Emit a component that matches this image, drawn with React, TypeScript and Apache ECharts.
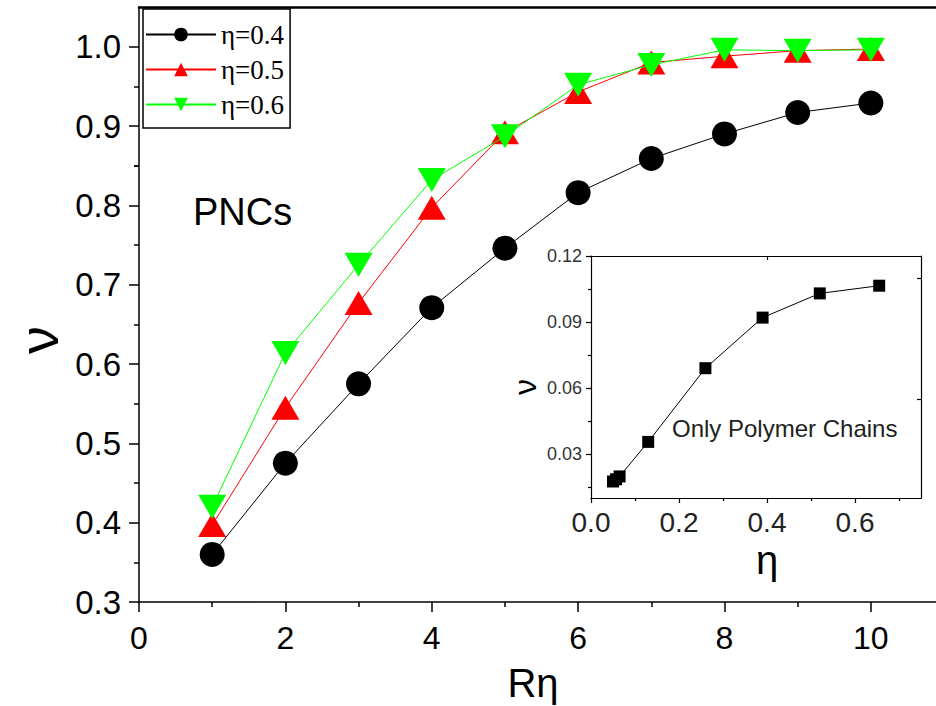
import React, { useEffect, useRef } from "react";
import * as echarts from "echarts";

// ---- main plot data ----
const rValues = [1, 2, 3, 4, 5, 6, 7, 8, 9, 10];
const nuEta04 = [0.36, 0.475, 0.575, 0.671, 0.746, 0.816, 0.859, 0.89, 0.917, 0.929];
const nuEta05 = [0.397, 0.545, 0.677, 0.797, 0.892, 0.943, 0.98, 0.988, 0.995, 0.997];
const nuEta06 = [0.42, 0.614, 0.725, 0.832, 0.887, 0.952, 0.977, 0.996, 0.995, 0.996];
const seriesNames = ["η=0.4", "η=0.5", "η=0.6"];
const mainXTicks = [0, 2, 4, 6, 8, 10];
const mainXMinor = [1, 3, 5, 7, 9];
const mainYTicks = [0.3, 0.4, 0.5, 0.6, 0.7, 0.8, 0.9, 1.0];
const mainYMinor = [0.35, 0.45, 0.55, 0.65, 0.75, 0.85, 0.95];

// ---- inset data ----
const insetEta = [0.05, 0.057, 0.065, 0.13, 0.26, 0.39, 0.52, 0.655];
const insetNu = [0.0175, 0.0185, 0.0198, 0.0355, 0.069, 0.092, 0.103, 0.1065];
const insetXTicks = [0, 0.2, 0.4, 0.6];
const insetXMinor = [0.1, 0.3, 0.5, 0.7];
const insetYTicks = [0.03, 0.06, 0.09, 0.12];
const insetYMinor = [0.015, 0.045, 0.075, 0.105];

const SANS = '"Liberation Sans", Arial, sans-serif';
const SERIF = '"Liberation Serif", "Times New Roman", serif';

function pairs(xs: number[], ys: number[]) {
  return xs.map((x, i) => [x, ys[i]]);
}

export default function App() {
  const ref = useRef<HTMLDivElement>(null);
  useEffect(() => {
    if (!ref.current) return;
    const chart = echarts.init(ref.current, undefined, { renderer: "svg" });
    const line = { show: true, onZero: false, lineStyle: { color: "#000", width: 1.5 } };
    const hidden = { show: false };
    const option: any = {
      animation: false,
      backgroundColor: "#fff",
      grid: [
        { left: 139, right: 0, top: 7, bottom: 104 },
        { left: 591, right: 15, top: 256, bottom: 208, show: true, backgroundColor: "#fff", borderWidth: 0, z: 5 },
      ],
      xAxis: [
        {
          type: "value", gridIndex: 0, min: 0, max: 10.89, position: "bottom",
          axisLine: line, splitLine: hidden,
          axisTick: { show: true, inside: false, length: 10, customValues: mainXTicks, lineStyle: { color: "#000", width: 1.5 } },
          axisLabel: { customValues: mainXTicks, margin: 20, fontSize: 32, fontFamily: SANS, color: "#000" },
        },
        {
          type: "value", gridIndex: 0, min: 0, max: 10.89, position: "bottom",
          axisLine: hidden, splitLine: hidden, axisLabel: hidden,
          axisTick: { show: true, inside: false, length: 5, customValues: mainXMinor, lineStyle: { color: "#000", width: 1.5 } },
        },
        {
          type: "value", gridIndex: 0, min: 0, max: 10.89, position: "top",
          axisLine: { show: true, onZero: false, lineStyle: { color: "#000", width: 2.5 } }, splitLine: hidden, axisLabel: hidden,
          axisTick: hidden,
        },
        {
          type: "value", gridIndex: 1, min: 0, max: 0.75, position: "bottom", z: 6,
          axisLine: { show: true, onZero: false, lineStyle: { color: "#000", width: 1.2 } }, splitLine: hidden,
          axisTick: { show: true, inside: false, length: 5, customValues: insetXTicks, lineStyle: { color: "#000", width: 1.2 } },
          axisLabel: { customValues: insetXTicks, margin: 10, fontSize: 28, fontFamily: SANS, color: "#222", formatter: (v: number) => v.toFixed(1) },
        },
        {
          type: "value", gridIndex: 1, min: 0, max: 0.75, position: "bottom", z: 6,
          axisLine: hidden, splitLine: hidden, axisLabel: hidden,
          axisTick: { show: true, inside: false, length: 3, customValues: insetXMinor, lineStyle: { color: "#000", width: 1.2 } },
        },
        {
          type: "value", gridIndex: 1, min: 0, max: 0.75, position: "top", z: 6,
          axisLine: { show: true, onZero: false, lineStyle: { color: "#000", width: 1.2 } }, splitLine: hidden, axisLabel: hidden,
          axisTick: { show: true, inside: true, length: 4, customValues: [0.4], lineStyle: { color: "#000", width: 1.2 } },
        },
      ],
      yAxis: [
        {
          type: "value", gridIndex: 0, min: 0.3, max: 1.05, position: "left",
          axisLine: line, splitLine: hidden,
          axisTick: { show: true, inside: false, length: 10, customValues: mainYTicks, lineStyle: { color: "#000", width: 1.5 } },
          axisLabel: { customValues: mainYTicks, margin: 18, fontSize: 33, fontFamily: SANS, color: "#000", formatter: (v: number) => v.toFixed(1) },
        },
        {
          type: "value", gridIndex: 0, min: 0.3, max: 1.05, position: "left",
          axisLine: hidden, splitLine: hidden, axisLabel: hidden,
          axisTick: { show: true, inside: false, length: 5, customValues: mainYMinor, lineStyle: { color: "#000", width: 1.5 } },
        },
        {
          type: "value", gridIndex: 0, min: 0.3, max: 1.05, position: "right",
          axisLine: hidden, splitLine: hidden, axisLabel: hidden,
          axisTick: { show: true, inside: true, length: 5, customValues: [0.85], lineStyle: { color: "#000", width: 1.5 } },
        },
        {
          type: "value", gridIndex: 1, min: 0.01, max: 0.12, position: "left", z: 6,
          axisLine: { show: true, onZero: false, lineStyle: { color: "#000", width: 1.2 } }, splitLine: hidden,
          axisTick: { show: true, inside: false, length: 5, customValues: insetYTicks, lineStyle: { color: "#000", width: 1.2 } },
          axisLabel: { customValues: insetYTicks, margin: 9, fontSize: 18, fontFamily: SANS, color: "#333", formatter: (v: number) => v.toFixed(2) },
        },
        {
          type: "value", gridIndex: 1, min: 0.01, max: 0.12, position: "left", z: 6,
          axisLine: hidden, splitLine: hidden, axisLabel: hidden,
          axisTick: { show: true, inside: false, length: 3, customValues: insetYMinor, lineStyle: { color: "#000", width: 1.2 } },
        },
        {
          type: "value", gridIndex: 1, min: 0.01, max: 0.12, position: "right", z: 6,
          axisLine: { show: true, onZero: false, lineStyle: { color: "#000", width: 1.2 } }, splitLine: hidden, axisLabel: hidden,
          axisTick: { show: true, inside: true, length: 4, customValues: [0.055, 0.11], lineStyle: { color: "#000", width: 1.2 } },
        },
      ],
      legend: {
        show: true,
        orient: "vertical",
        left: 143,
        top: 9,
        padding: [12, 6, 10, 2],
        itemGap: 8,
        itemWidth: 70,
        itemHeight: 17,
        borderColor: "#000",
        borderWidth: 1.5,
        backgroundColor: "#fff",
        textStyle: { fontFamily: SERIF, fontSize: 27, color: "#000" },
        data: seriesNames,
      },
      series: [
        {
          name: seriesNames[0], type: "line", xAxisIndex: 0, yAxisIndex: 0,
          data: pairs(rValues, nuEta04),
          symbol: "circle", symbolSize: 25,
          lineStyle: { color: "#000", width: 1 }, itemStyle: { color: "#000" },
          z: 2,
        },
        {
          name: seriesNames[1], type: "line", xAxisIndex: 0, yAxisIndex: 0,
          data: pairs(rValues, nuEta05),
          symbol: "triangle", symbolSize: [28, 24],
          lineStyle: { color: "#ff0000", width: 1 }, itemStyle: { color: "#ff0000" },
          z: 3,
        },
        {
          name: seriesNames[2], type: "line", xAxisIndex: 0, yAxisIndex: 0,
          data: pairs(rValues, nuEta06),
          symbol: "triangle", symbolRotate: 180, symbolSize: [28, 24],
          lineStyle: { color: "#00ff00", width: 1 }, itemStyle: { color: "#00ff00" },
          z: 4,
        },
        {
          name: "inset", type: "line", xAxisIndex: 3, yAxisIndex: 3,
          data: pairs(insetEta, insetNu),
          symbol: "rect", symbolSize: 12,
          lineStyle: { color: "#000", width: 1 }, itemStyle: { color: "#000" },
          z: 7,
        },
      ],
      graphic: [
        { type: "text", x: 193, y: 212, z: 10, style: { text: "PNCs", font: `38px ${SANS}`, fill: "#000", verticalAlign: "middle" } },
        { type: "text", x: 533, y: 683, z: 10, style: { text: "Rη", font: `40px ${SANS}`, fill: "#000", align: "center", verticalAlign: "middle" } },
        { type: "text", x: 38, y: 340, rotation: Math.PI / 2, z: 10, style: { text: "ν", font: `56px ${SANS}`, fill: "#000", align: "center", verticalAlign: "middle" } },
        { type: "text", x: 672, y: 428, z: 10, style: { text: "Only Polymer Chains", font: `24px ${SANS}`, fill: "#222", verticalAlign: "middle" } },
        { type: "text", x: 767, y: 560, z: 10, style: { text: "η", font: `40px ${SANS}`, fill: "#000", align: "center", verticalAlign: "middle" } },
        { type: "text", x: 525, y: 387, rotation: Math.PI / 2, z: 10, style: { text: "ν", font: `32px ${SANS}`, fill: "#000", align: "center", verticalAlign: "middle" } },
      ],
    };
    chart.setOption(option);
    return () => chart.dispose();
  }, []);
  return (
    <div
      ref={ref}
      style={{ position: "fixed", left: 0, top: 0, width: 936, height: 706, background: "#fff" }}
    />
  );
}
